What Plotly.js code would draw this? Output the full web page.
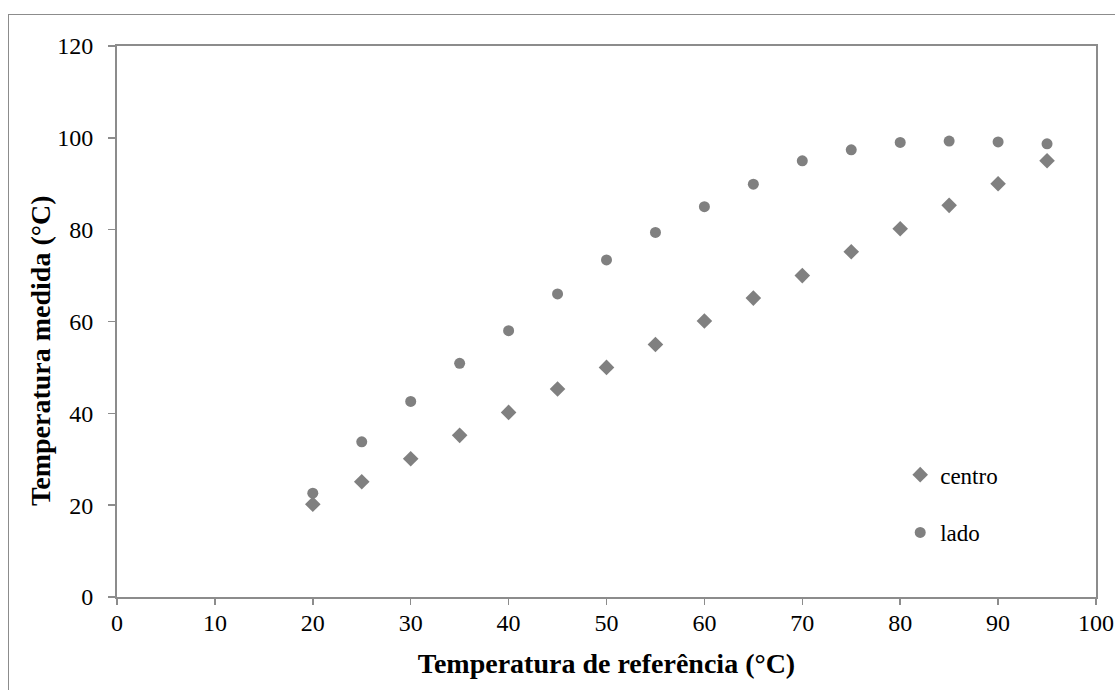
<!DOCTYPE html>
<html>
<head>
<meta charset="utf-8">
<script src="https://cdn.plot.ly/plotly-3.0.1.min.js"></script>
<style>
  html, body { margin: 0; padding: 0; background: #fff; }
  #wrap { position: relative; width: 1115px; height: 690px; overflow: hidden; }
  #frame { position: absolute; left: 8px; top: 14px; width: 1200px; height: 800px; border-left: 1.5px solid #8c8c8c; border-top: 1.5px solid #8c8c8c; pointer-events: none; }
  #chart { position: absolute; left: 0; top: 0; width: 1115px; height: 690px; }
</style>
</head>
<body>
<div id="wrap">
  <div id="chart"></div>
  <div id="frame"></div>
</div>
<script>
const referencia = [20, 25, 30, 35, 40, 45, 50, 55, 60, 65, 70, 75, 80, 85, 90, 95];
const centro = [20.2, 25.1, 30.1, 35.2, 40.2, 45.3, 50.0, 55.0, 60.1, 65.1, 70.0, 75.2, 80.2, 85.3, 90.0, 95.0];
const lado = [22.6, 33.8, 42.6, 50.9, 58.0, 66.0, 73.4, 79.4, 85.0, 89.9, 95.0, 97.4, 99.0, 99.3, 99.1, 98.7];
const xTicks = [0, 10, 20, 30, 40, 50, 60, 70, 80, 90, 100];
const yTicks = [0, 20, 40, 60, 80, 100, 120];
const xTitle = 'Temperatura de referência (°C)';
const yTitle = 'Temperatura medida (°C)';

const serif = 'Liberation Serif, Times New Roman, serif';
const gray = '#808080';

const traces = [
  { x: referencia, y: centro, name: 'centro', type: 'scatter', mode: 'markers',
    marker: { symbol: 'diamond', size: 12, color: gray }, legend: 'legend' },
  { x: referencia, y: lado, name: 'lado', type: 'scatter', mode: 'markers',
    marker: { symbol: 'circle', size: 11, color: gray }, legend: 'legend2' }
];

const axisCommon = {
  showgrid: false, zeroline: false, showline: true, linecolor: '#8c8c8c', linewidth: 2,
  mirror: true, ticks: 'outside', tickcolor: '#8c8c8c', tickwidth: 1.5,
  tickfont: { family: serif, size: 24, color: '#000' }
};

const layout = {
  width: 1115, height: 690,
  margin: { l: 117, r: 19, t: 46, b: 93 },
  paper_bgcolor: 'rgba(0,0,0,0)', plot_bgcolor: '#fff',
  font: { family: serif, color: '#000' },
  xaxis: Object.assign({}, axisCommon, {
    range: [0, 100], tickvals: xTicks, ticktext: xTicks.map(String), ticklen: 6, ticklabelstandoff: -3,
    title: { text: xTitle, font: { family: serif, size: 28, color: '#000', weight: 'bold' }, standoff: 19 }
  }),
  yaxis: Object.assign({}, axisCommon, {
    range: [0, 120], tickvals: yTicks, ticktext: yTicks.map(String), ticklen: 7, ticklabelstandoff: 10
  }),
  annotations: [{
    text: yTitle, textangle: -90, xref: 'paper', yref: 'paper',
    x: -0.078, y: 0.446, xanchor: 'center', yanchor: 'middle', showarrow: false,
    font: { family: serif, size: 28, color: '#000', weight: 'bold' }
  }],
  legend: { x: 0.8, y: 0.222, xanchor: 'left', yanchor: 'middle', bgcolor: 'rgba(0,0,0,0)',
    font: { family: serif, size: 23, color: '#000' }, itemwidth: 30 },
  legend2: { x: 0.8, y: 0.117, xanchor: 'left', yanchor: 'middle', bgcolor: 'rgba(0,0,0,0)',
    font: { family: serif, size: 23, color: '#000' }, itemwidth: 30 },
  showlegend: true
};

Plotly.newPlot('chart', traces, layout, { displayModeBar: false, staticPlot: true });
</script>
</body>
</html>
